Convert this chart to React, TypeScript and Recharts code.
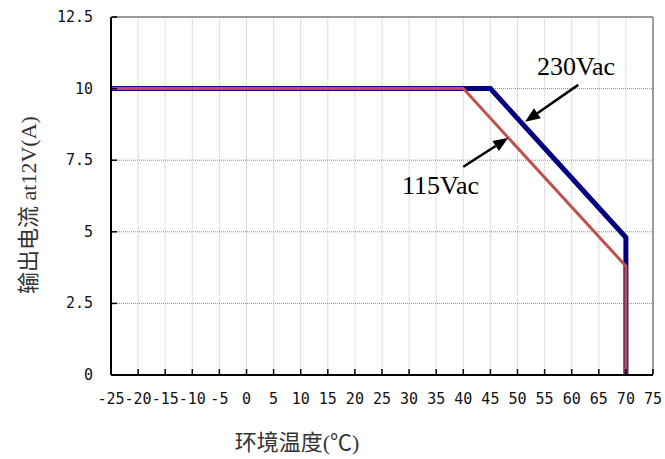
import React from 'react';
import {
  LineChart,
  Line,
  XAxis,
  YAxis,
  CartesianGrid,
  ReferenceLine,
  ReferenceDot,
} from 'recharts';

// 230Vac 降额曲线
const temps230 = [-25, 45, 70, 70];
const amps230 = [10, 10, 4.8, 0];
// 115Vac 降额曲线
const temps115 = [-25, 40, 70, 70];
const amps115 = [10, 10, 3.8, 0];

const xTicks = [-25, -20, -15, -10, -5, 0, 5, 10, 15, 20, 25, 30, 35, 40, 45, 50, 55, 60, 65, 70, 75];
const yTicks = [0, 2.5, 5, 7.5, 10, 12.5];

const seriesNames = ['230Vac', '115Vac'];
const xTitle = '环境温度(℃)';
const yTitle = '输出电流 at12V(A)';

// arrows: [tailX, tailY, headX, headY]
const arrow230 = [61.2, 10.13, 51.4, 8.84];
const arrow115 = [40.0, 7.27, 48.3, 8.28];
// label anchors (text start, baseline)
const label230 = [53.6, 10.48];
const label115 = [28.7, 6.32];

const data230 = temps230.map((t, i) => ({ t, a: amps230[i] }));
const data115 = temps115.map((t, i) => ({ t, a: amps115[i] }));

const tickFont = '"DejaVu Sans Mono", monospace';
const titleFont = '"Liberation Serif", "Noto Sans CJK SC", serif';

const XTick = (props: any) => {
  const { x, y, payload } = props;
  return (
    <g>
      <line x1={x} y1={y - 1} x2={x} y2={y - 6} stroke="#000" strokeWidth={1.5} />
      <text x={x} y={y + 29} textAnchor="middle" fontFamily={tickFont} fontSize={15} fill="#111">
        {payload.value}
      </text>
    </g>
  );
};

const YTick = (props: any) => {
  const { x, y, payload } = props;
  return (
    <g>
      <line x1={x + 1} y1={y} x2={x + 6} y2={y} stroke="#000" strokeWidth={1.5} />
      <text x={x - 18} y={y + 5} textAnchor="end" fontFamily={tickFont} fontSize={15} fill="#111">
        {payload.value}
      </text>
    </g>
  );
};

const arrowShape = (props: any) => {
  const { x1, y1, x2, y2 } = props;
  if (x1 == null) return <g />;
  const dx = x2 - x1;
  const dy = y2 - y1;
  const len = Math.sqrt(dx * dx + dy * dy);
  const ux = dx / len;
  const uy = dy / len;
  const hl = 15;
  const hw = 6;
  const bx = x2 - ux * hl;
  const by = y2 - uy * hl;
  const pts = `${x2},${y2} ${bx - uy * hw},${by + ux * hw} ${bx + uy * hw},${by - ux * hw}`;
  return (
    <g>
      <line x1={x1} y1={y1} x2={bx} y2={by} stroke="#000" strokeWidth={2.5} />
      <polygon points={pts} fill="#000" />
    </g>
  );
};

const textShape = (text: string) => (props: any) => {
  const { cx, cy } = props;
  return (
    <text x={cx} y={cy} fontFamily='"Liberation Serif", serif' fontSize={26} fill="#000">
      {text}
    </text>
  );
};

const App: React.FC = () => {
  return (
    <div style={{ position: 'absolute', left: 0, top: 0, width: 665, height: 459, background: '#fff' }}>
      <LineChart width={665} height={459} margin={{ top: 17, right: 12, left: 0, bottom: 0 }}>
        <CartesianGrid horizontal={false} stroke="#c4c4c4" strokeDasharray="1 1" />
        <CartesianGrid vertical={false} stroke="#8a8a8a" strokeDasharray="1 1" />
        <XAxis
          type="number"
          dataKey="t"
          domain={[-25, 75]}
          ticks={xTicks}
          interval={0}
          allowDuplicatedCategory={false}
          axisLine={{ stroke: '#000', strokeWidth: 2 }}
          tickLine={false}
          tickSize={0}
          tickMargin={0}
          tick={<XTick />}
          height={84}
          label={{
            content: (p: any) => {
              const vb = p.viewBox;
              return (
                <text x={297} y={vb.y + 75} textAnchor="middle" fontFamily={titleFont} fontSize={22} fill="#333">
                  {xTitle}
                </text>
              );
            },
          }}
        />
        <YAxis
          type="number"
          domain={[0, 12.5]}
          ticks={yTicks}
          interval={0}
          axisLine={{ stroke: '#000', strokeWidth: 2 }}
          tickLine={false}
          tickSize={0}
          tickMargin={0}
          tick={<YTick />}
          width={111}
          label={{
            content: (p: any) => {
              const vb = p.viewBox;
              const cy = vb.y + vb.height / 2 + 9;
              return (
                <text
                  x={36}
                  y={cy}
                  transform={`rotate(-90 36 ${cy})`}
                  textAnchor="middle"
                  fontFamily={titleFont}
                  fontSize={22}
                  fill="#333"
                >
                  {yTitle}
                </text>
              );
            },
          }}
        />
        <ReferenceLine y={12.5} stroke="#808080" strokeWidth={1.5} />
        <ReferenceLine x={75} stroke="#808080" strokeWidth={1.5} />
        <Line
          data={data230}
          dataKey="a"
          name={seriesNames[0]}
          stroke="#000080"
          strokeWidth={5}
          dot={false}
          type="linear"
          isAnimationActive={false}
        />
        <Line
          data={data115}
          dataKey="a"
          name={seriesNames[1]}
          stroke="#c0504d"
          strokeWidth={3}
          dot={false}
          type="linear"
          isAnimationActive={false}
        />
        <ReferenceLine
          segment={[
            { x: arrow230[0], y: arrow230[1] },
            { x: arrow230[2], y: arrow230[3] },
          ]}
          shape={arrowShape}
        />
        <ReferenceLine
          segment={[
            { x: arrow115[0], y: arrow115[1] },
            { x: arrow115[2], y: arrow115[3] },
          ]}
          shape={arrowShape}
        />
        <ReferenceDot x={label230[0]} y={label230[1]} r={1} shape={textShape(seriesNames[0])} />
        <ReferenceDot x={label115[0]} y={label115[1]} r={1} shape={textShape(seriesNames[1])} />
      </LineChart>
    </div>
  );
};

export default App;
